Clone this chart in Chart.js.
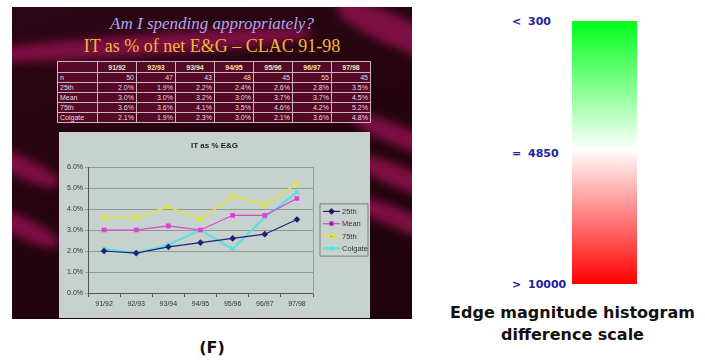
<!DOCTYPE html>
<html>
<head>
<meta charset="utf-8">
<script src="https://cdn.jsdelivr.net/npm/chart.js@4.4.1/dist/chart.umd.min.js"></script>
<style>
body { margin: 0; width: 705px; height: 363px; background: #fff; position: relative; overflow: hidden; font-family: Arial, "Liberation Sans", sans-serif; }
#slide { position: absolute; left: 12px; top: 7px; width: 400px; height: 312px; background: linear-gradient(160deg, #2c0615 0%, #25040f 50%, #1e030c 100%); overflow: hidden; }
.band { position: absolute; background: #7d0e42; filter: blur(4px); border-radius: 40%; }
.t1 { position: absolute; left: 12px; width: 400px; top: 14px; line-height: 20px; text-align: center; font: italic 17px "Liberation Serif", "DejaVu Serif", serif; color: #b5a6ee; }
.t2 { position: absolute; left: 12px; width: 400px; top: 36px; line-height: 22px; text-align: center; font: 18px "Liberation Serif", "DejaVu Serif", serif; color: #ecba36; }
#tbl { position: absolute; left: 57px; top: 61px; border-collapse: collapse; background: rgba(115, 12, 52, 0.6); }
#tbl td, #tbl th { border: 1px solid #c9b5bf; padding: 0 2px; font: 7px Arial, sans-serif; color: #efd6df; height: 9px; line-height: 9px; width: 34px; text-align: right; }
#tbl th { font-weight: bold; text-align: center; color: #f2e2b6; height: 10px; }
#tbl td.lab { text-align: left; width: 35px; }
#chartBox { position: absolute; left: 59px; top: 132px; width: 311px; height: 186px; background: #c7d1cd; }
#bar { position: absolute; left: 572px; top: 21px; width: 65px; height: 263px; background: linear-gradient(#00ff1a 0%, #ffffff 49%, #fff2f2 51%, #ff0000 100%); }
.sym, .num { position: absolute; font: bold 11px "DejaVu Sans", sans-serif; color: #2222a0; line-height: 12px; }
.cap { position: absolute; left: 440px; width: 265px; text-align: center; font: bold 16px "DejaVu Sans", sans-serif; color: #111; line-height: 20px; }
#flabel { position: absolute; left: 182px; width: 60px; top: 338px; text-align: center; font: bold 16px "DejaVu Sans", sans-serif; color: #111; line-height: 20px; }
</style>
</head>
<body>
<div id="slide">
  <div class="band" style="left:-40px; top:28px; width:340px; height:20px; transform:rotate(-4deg);"></div>
  <div class="band" style="left:320px; top:12px; width:140px; height:30px; transform:rotate(24deg);"></div>
  <div class="band" style="left:340px; top:120px; width:100px; height:20px; transform:rotate(22deg);"></div>
  <div class="band" style="left:340px; top:160px; width:100px; height:22px; transform:rotate(22deg);"></div>
  <div class="band" style="left:340px; top:203px; width:100px; height:20px; transform:rotate(22deg);"></div>
  <div class="band" style="left:-40px; top:148px; width:90px; height:20px; transform:rotate(25deg);"></div>
  <div class="band" style="left:-40px; top:208px; width:90px; height:20px; transform:rotate(25deg);"></div>
</div>
<div class="t1">Am I spending appropriately?</div>
<div class="t2">IT as % of net E&amp;G – CLAC 91-98</div>
<table id="tbl"></table>
<div id="chartBox"><canvas id="itChart" width="311" height="186"></canvas></div>

<div id="bar"></div>
<div id="scaleLabels"></div>
<div class="cap" style="top:303px;">Edge magnitude histogram</div>
<div class="cap" style="top:325px;">difference scale</div>
<div id="flabel">(F)</div>

<script>
// Daten aus der Folie (CLAC 91-98)
const years = ['91/92', '92/93', '93/94', '94/95', '95/96', '96/97', '97/98'];
const nCounts = [50, 47, 43, 48, 45, 55, 45];
const p25 = [2.0, 1.9, 2.2, 2.4, 2.6, 2.8, 3.5];
const mean = [3.0, 3.0, 3.2, 3.0, 3.7, 3.7, 4.5];
const p75 = [3.6, 3.6, 4.1, 3.5, 4.6, 4.2, 5.2];
const colgate = [2.1, 1.9, 2.3, 3.0, 2.1, 3.6, 4.8];
const yTicks = [0, 1, 2, 3, 4, 5, 6];

// Farbskala rechts
const scaleSymbols = ['<', '=', '>'];
const scaleValues = ['300', '4850', '10000'];

function buildTable() {
    const tbl = document.getElementById('tbl');
    let html = '<tr><th></th>' + years.map(y => `<th>${y}</th>`).join('') + '</tr>';
    html += '<tr><td class="lab">n</td>' + nCounts.map(v => `<td>${v}</td>`).join('') + '</tr>';
    const rows = [['25th', p25], ['Mean', mean], ['75th', p75], ['Colgate', colgate]];
    rows.forEach(([label, vals]) => {
        html += `<tr><td class="lab">${label}</td>` + vals.map(v => `<td>${v.toFixed(1)}%</td>`).join('') + '</tr>';
    });
    tbl.innerHTML = html;
}

function buildScaleLabels() {
    const bar = document.getElementById('bar');
    const top = bar.offsetTop, h = bar.offsetHeight;
    const box = document.getElementById('scaleLabels');
    scaleSymbols.forEach((s, i) => {
        const y = top + h * i / (scaleSymbols.length - 1) - 5;
        box.innerHTML += `<div class="sym" style="left:512px; top:${y}px;">${s}</div>`;
        box.innerHTML += `<div class="num" style="left:528px; top:${y}px;">${scaleValues[i]}</div>`;
    });
}

// Legende im Excel-Stil mit Rahmen
const boxLegend = {
    id: 'boxLegend',
    afterDraw(chart) {
        const ctx = chart.ctx;
        const area = chart.chartArea;
        const n = chart.data.datasets.length;
        const rowH = 12.3;
        const w = 48, h = n * rowH + 3;
        const x0 = area.right + 7;
        const y0 = (area.top + area.bottom) / 2 - h / 2;
        ctx.save();
        ctx.strokeStyle = '#6a6a6a';
        ctx.lineWidth = 0.8;
        ctx.strokeRect(x0, y0, w, h);
        ctx.font = '7.5px Arial';
        ctx.textBaseline = 'middle';
        chart.data.datasets.forEach((ds, i) => {
            const y = y0 + 7.5 + i * rowH;
            ctx.strokeStyle = ds.borderColor;
            ctx.lineWidth = ds.borderWidth;
            ctx.beginPath();
            ctx.moveTo(x0 + 3, y);
            ctx.lineTo(x0 + 20, y);
            ctx.stroke();
            Chart.helpers.drawPoint(ctx, {
                pointStyle: ds.pointStyle, radius: ds.pointRadius, rotation: 0, borderWidth: 1
            }, x0 + 11.5, y);
            ctx.fillStyle = '#333';
            ctx.fillText(ds.label, x0 + 22, y + 0.5);
        });
        ctx.restore();
    }
};

function makeSet(label, data, color, style, width) {
    return {
        label: label,
        data: data,
        borderColor: color,
        backgroundColor: color,
        pointBorderColor: color,
        borderWidth: width,
        pointStyle: style,
        pointRadius: 2.5,
        tension: 0
    };
}

function createChart() {
    const ctx = document.getElementById('itChart').getContext('2d');
    new Chart(ctx, {
        type: 'line',
        data: {
            labels: years,
            datasets: [
                makeSet('25th', p25, '#1f2378', 'rectRot', 1.2),
                makeSet('Mean', mean, '#e03fd6', 'rect', 1.2),
                makeSet('75th', p75, '#e4e43c', 'triangle', 1.5),
                makeSet('Colgate', colgate, '#5ee0e0', 'crossRot', 2.2)
            ]
        },
        options: {
            responsive: false,
            animation: false,
            layout: { padding: { left: 4, right: 4, top: 4, bottom: 4 } },
            scales: {
                x: {
                    offset: true,
                    grid: { offset: true, drawOnChartArea: false, drawTicks: true, tickLength: 4, color: '#555' },
                    border: { color: '#555', width: 1 },
                    ticks: { color: '#333', font: { size: 7, family: 'Arial' }, maxRotation: 0, autoSkip: false, padding: 3 },
                    afterFit: s => { s.height = 21; }
                },
                y: {
                    min: 0,
                    max: 6,
                    afterBuildTicks: s => { s.ticks = yTicks.map(v => ({ value: v })); },
                    grid: { color: '#7f8985', lineWidth: 0.8, drawTicks: true, tickLength: 3 },
                    border: { color: '#555', width: 1 },
                    ticks: {
                        color: '#333',
                        font: { size: 7, family: 'Arial' },
                        padding: 2,
                        callback: v => v.toFixed(1) + '%'
                    },
                    afterFit: s => { s.width = 25; }
                },
                yR: {
                    position: 'right',
                    min: 0,
                    max: 6,
                    grid: { display: false, drawTicks: false },
                    border: { display: true, color: '#8a928f', width: 0.8 },
                    ticks: { display: false },
                    afterFit: s => { s.width = 53; }
                }
            },
            plugins: {
                legend: { display: false },
                tooltip: { enabled: false },
                title: {
                    display: true,
                    text: 'IT as % E&G',
                    color: '#222',
                    font: { size: 8, weight: 'bold', family: 'Arial' },
                    padding: { top: 5, bottom: 16.4 }
                }
            }
        },
        plugins: [boxLegend]
    });
}

buildTable();
buildScaleLabels();
createChart();
</script>
</body>
</html>
